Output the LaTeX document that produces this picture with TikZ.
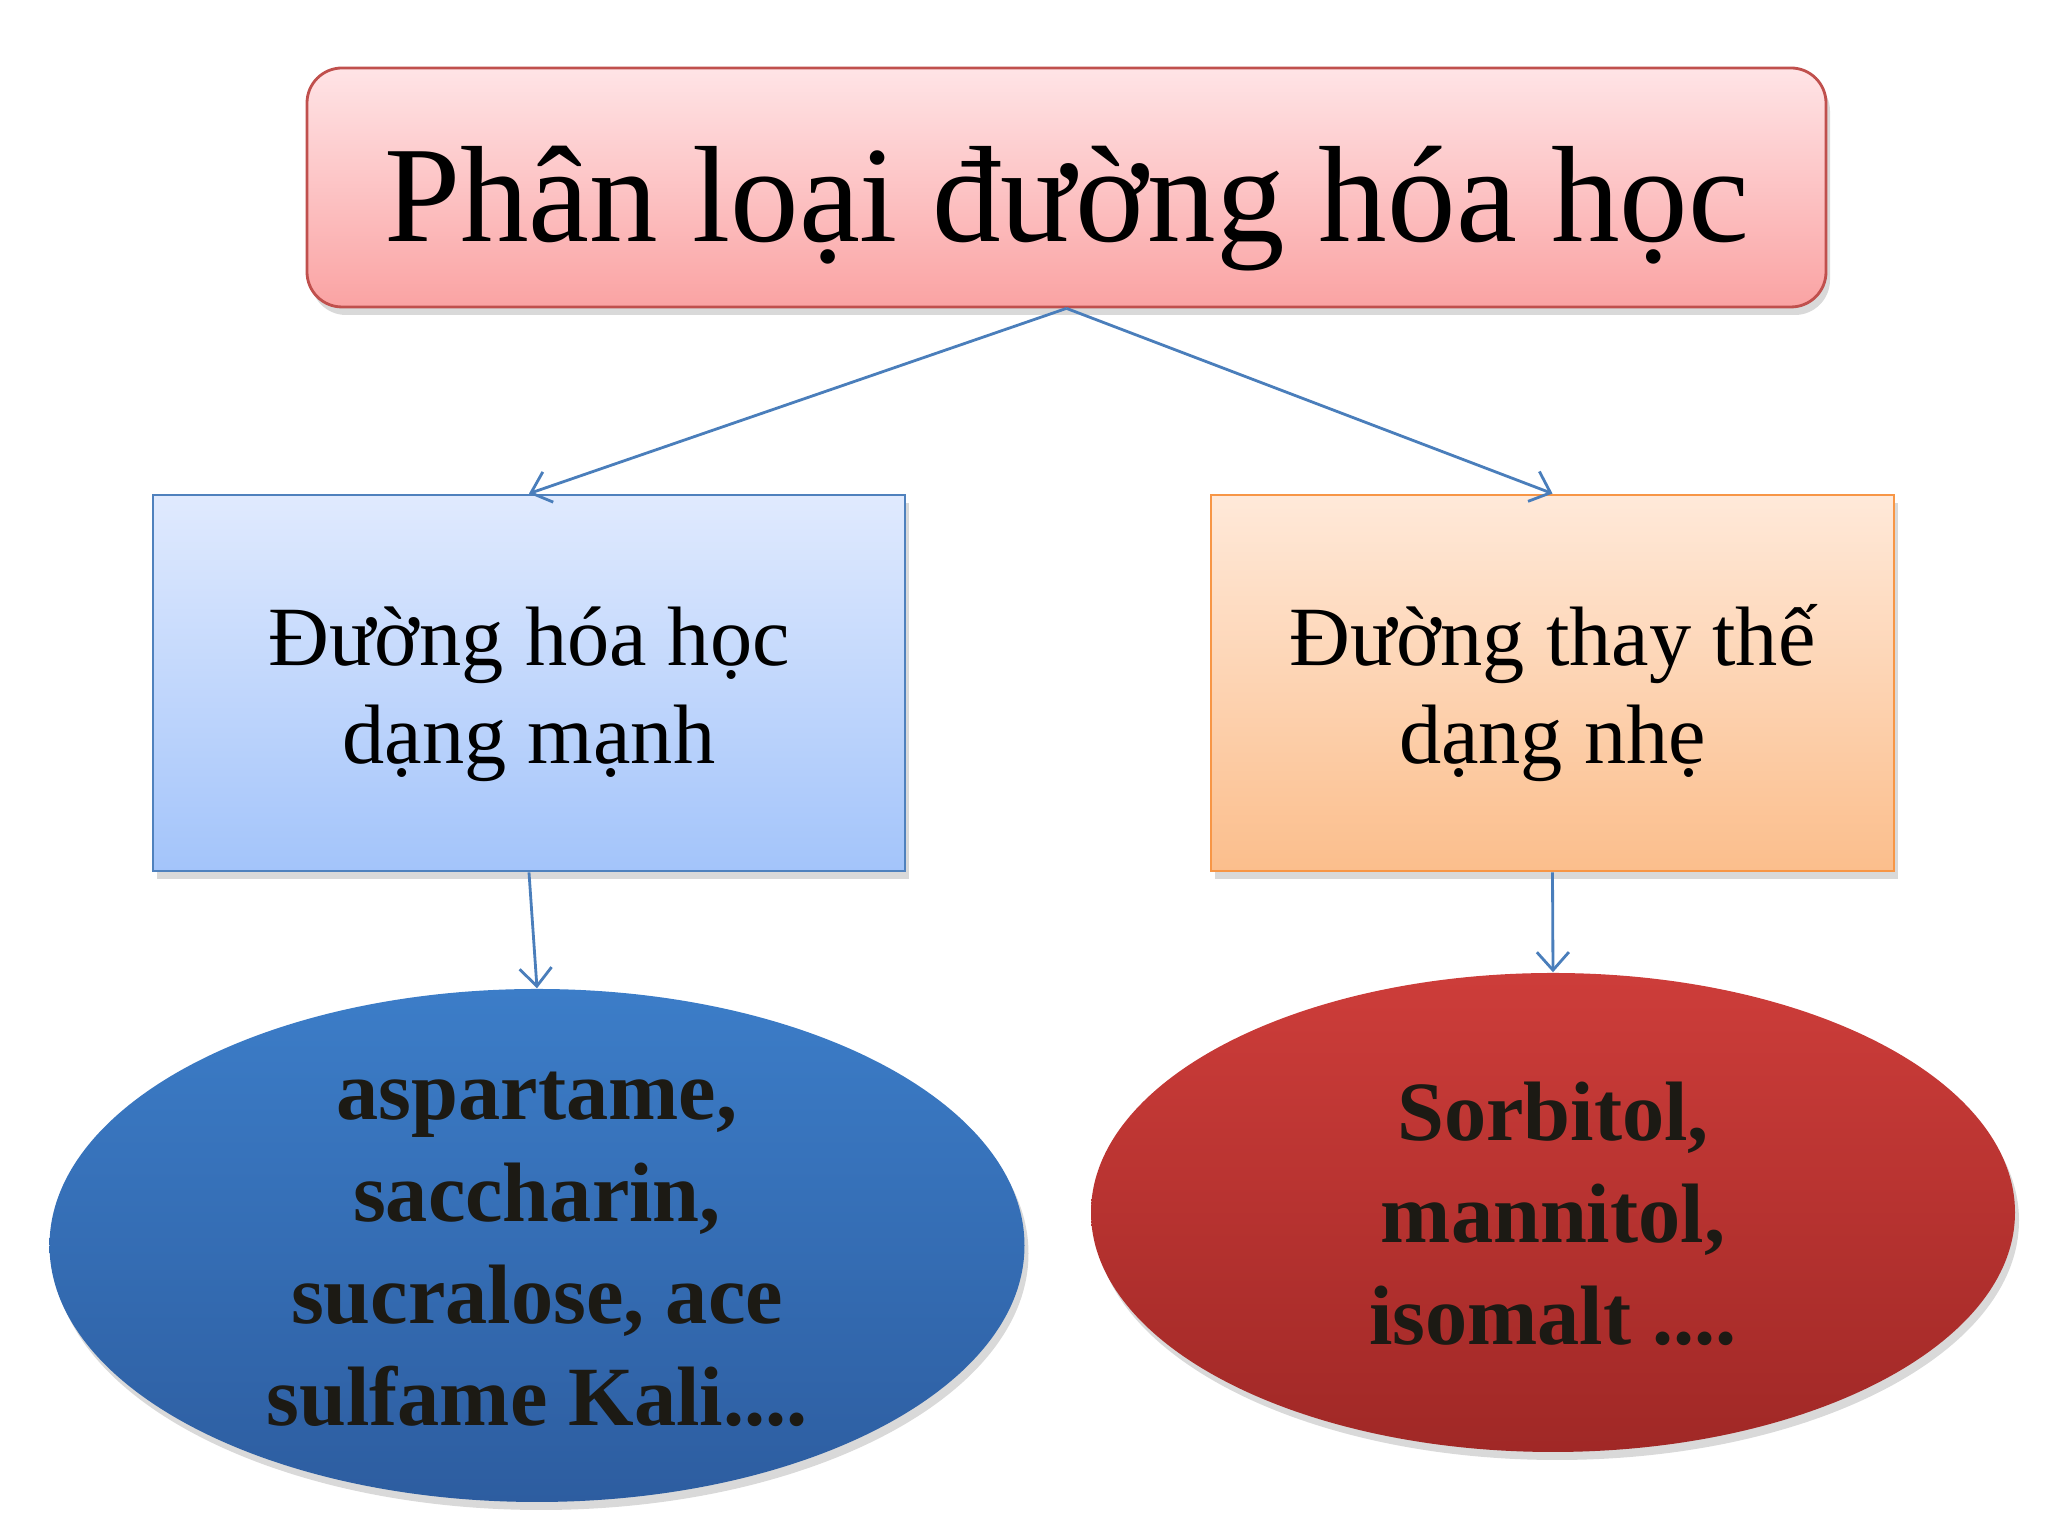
\documentclass[tikz,border=0pt]{standalone}
\usepackage{fontspec}
\setmainfont{Liberation Serif}
\usepackage{tikz}
\usetikzlibrary{shapes.geometric,shadows,arrows.meta}

\definecolor{titletop}{RGB}{255,228,230}
\definecolor{titlebot}{RGB}{250,163,163}
\definecolor{titleline}{RGB}{192,80,77}
\definecolor{bluetop}{RGB}{224,234,254}
\definecolor{bluebot}{RGB}{163,196,250}
\definecolor{blueline}{RGB}{79,129,189}
\definecolor{orangetop}{RGB}{255,233,217}
\definecolor{orangebot}{RGB}{251,190,140}
\definecolor{orangeline}{RGB}{247,150,70}
\definecolor{dbluetop}{RGB}{60,125,200}
\definecolor{dbluebot}{RGB}{45,93,160}
\definecolor{redtop}{RGB}{205,61,58}
\definecolor{redbot}{RGB}{160,40,38}
\definecolor{arrowcol}{RGB}{74,126,187}
\definecolor{darktext}{RGB}{28,26,20}

\tikzstyle{title box}=[rectangle, rounded corners=0.35cm, draw=titleline, line width=0.8pt,
  top color=titletop, bottom color=titlebot,
  drop shadow={shadow xshift=0.04cm, shadow yshift=-0.08cm, opacity=0.3},
  minimum width=15.19cm, minimum height=2.39cm, inner sep=0pt,
  text height=1.08cm, text depth=0pt]
\tikzstyle{kind box}=[rectangle, line width=0.8pt,
  drop shadow={shadow xshift=0.04cm, shadow yshift=-0.08cm, opacity=0.3},
  minimum height=3.76cm, inner sep=0pt, align=center,
  text height=1.62cm, text depth=0pt,
  font=\fontsize{24}{28}\selectfont]
\tikzstyle{sample}=[ellipse, draw=none, inner sep=0pt,
  drop shadow={shadow xshift=0.04cm, shadow yshift=-0.08cm, opacity=0.3}]
\tikzstyle{sample text}=[align=center, text=darktext,
  font=\fontsize{24}{29}\selectfont\bfseries]
\tikzstyle{link}=[draw=arrowcol, line width=0.8pt, -{Straight Barb[length=0.18cm, width=0.32cm]}]

\begin{document}
\begin{tikzpicture}
\useasboundingbox (0,0) rectangle (20.48,15.36);

\node[title box, font=\fontsize{39}{46}\selectfont] (root) at (10.665, 13.485) {Phân loại đường hóa học};

\node[kind box, draw=blueline, top color=bluetop, bottom color=bluebot,
      minimum width=7.52cm] (strong) at (5.29, 8.53) {Đường hóa học\\dạng mạnh};
\node[kind box, draw=orangeline, top color=orangetop, bottom color=orangebot,
      minimum width=6.83cm] (mild) at (15.525, 8.53) {Đường thay thế\\dạng nhẹ};

\node[sample, top color=dbluetop, bottom color=dbluebot,
      minimum width=9.75cm, minimum height=5.13cm] (strongex) at (5.37, 2.905) {};
\node[sample text] (strongtxt) at (5.37, 2.87) {aspartame,\\saccharin,\\sucralose, ace\\sulfame Kali....};

\node[sample, top color=redtop, bottom color=redbot,
      minimum width=9.24cm, minimum height=4.79cm] (mildex) at (15.53, 3.235) {};
\node[sample text] (mildtxt) at (15.53, 3.22) {Sorbitol,\\mannitol,\\isomalt ....};

\draw[link] (root.south) -- (strong.north);
\draw[link] (root.south) -- (mild.north);
\draw[link] (strong.south) -- (strongex.north);
\draw[link] (mild.south) -- (mildex.north);
\end{tikzpicture}
\end{document}
